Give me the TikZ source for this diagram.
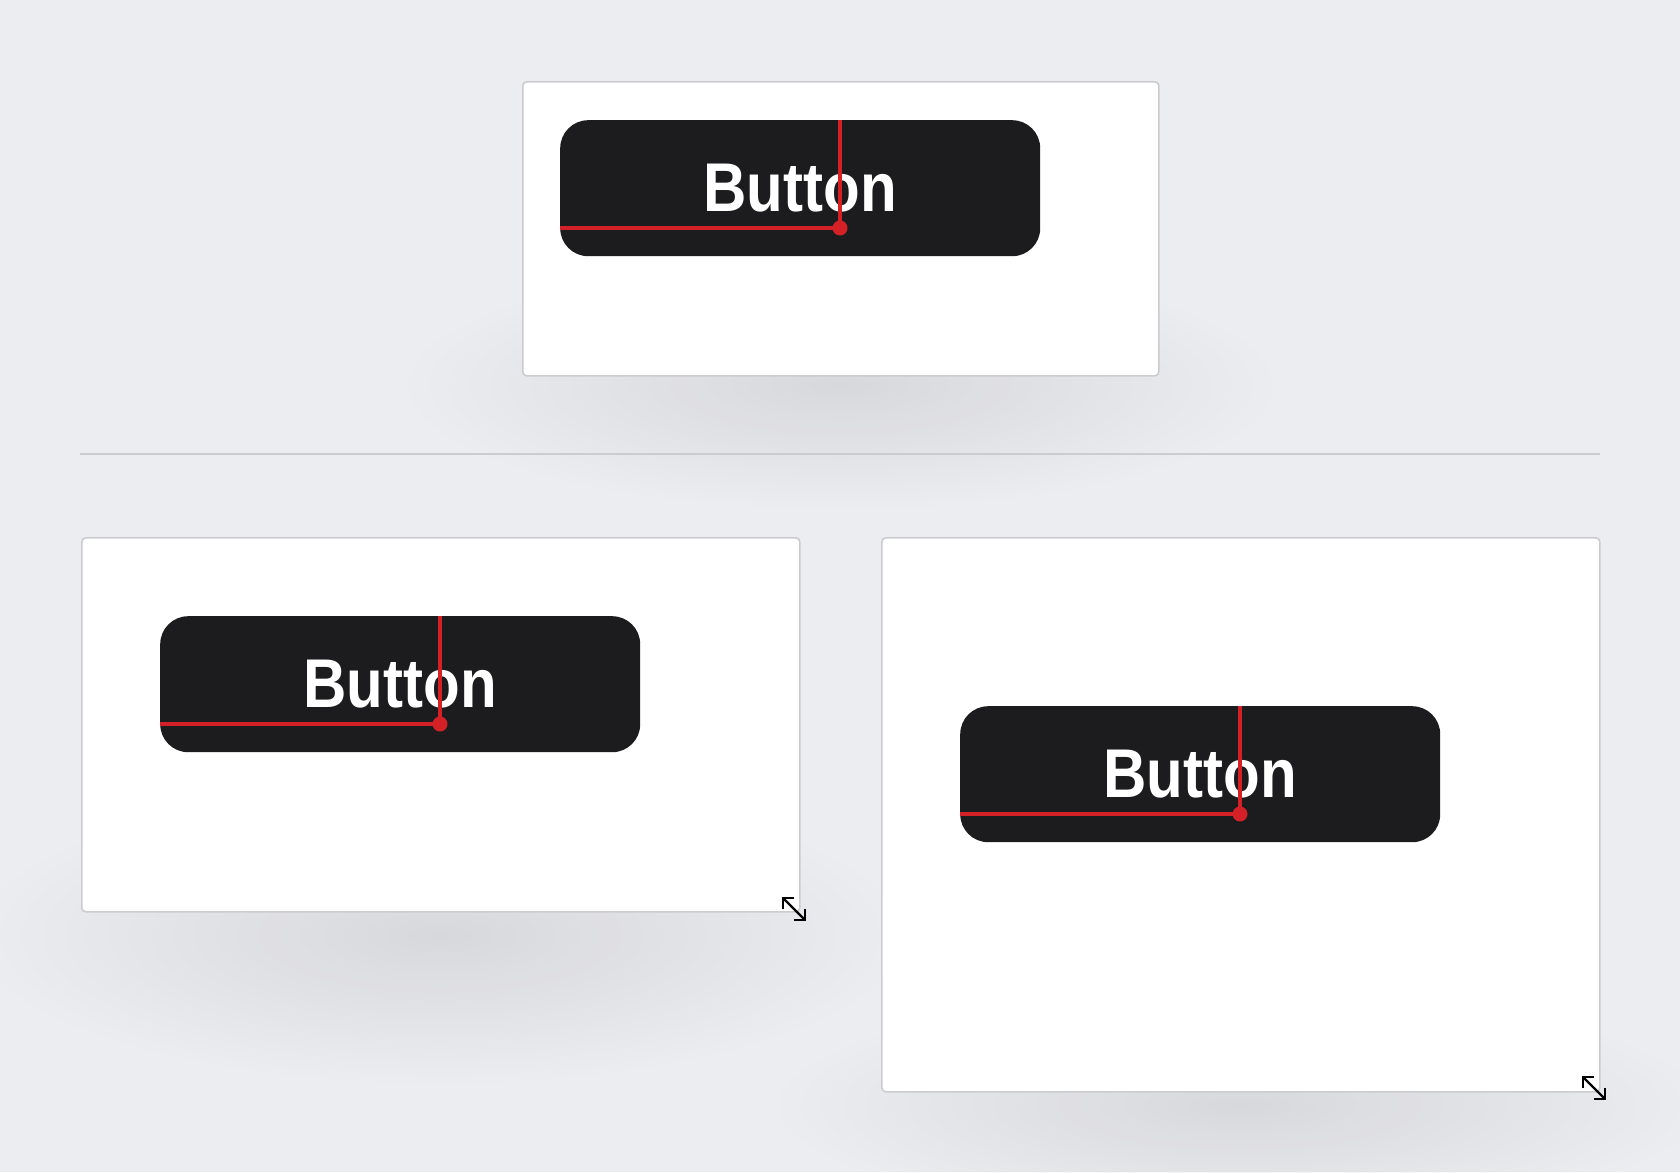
\documentclass[tikz,border=0pt]{standalone}
\usepackage{fontspec}
\setmainfont{Liberation Sans}
\usetikzlibrary{fadings,arrows.meta}
\definecolor{bg}{HTML}{ECEDF1}
\definecolor{frame}{HTML}{CBCCD0}
\definecolor{btn}{HTML}{1C1C1E}
\definecolor{guide}{HTML}{D42027}
\tikzfading[name=softglow, inner color=transparent!0, outer color=transparent!100]
\begin{document}
\begin{tikzpicture}[x=1pt,y=-1pt,
  panel/.style={draw=frame, line width=1.6pt, fill=white, rounded corners=4pt, inner sep=0pt, anchor=north west},
  shadowblob/.style={fill=black, opacity=0.085, path fading=softglow},
  button/.style={fill=btn, rounded corners=28pt, minimum width=480pt, minimum height=136pt, inner sep=0pt,
    anchor=north west},
  label/.style={text=white, inner sep=0pt, xscale=0.87, font=\fontsize{69}{69}\selectfont\bfseries},
  guide/.style={draw=guide, line width=3.5pt},
  dot/.style={circle, fill=guide, inner sep=0pt, minimum size=15pt},
  resize/.style={draw=black, line width=2.2pt, {Straight Barb[length=7.5pt,width=15pt]}-{Straight Barb[length=7.5pt,width=15pt]}},
  divider/.style={draw=frame, line width=2pt}]
\fill[bg] (0,0) rectangle (1680,1172);
\useasboundingbox (0,0) rectangle (1680,1172);

% soft shadows
\fill[shadowblob] (840,385) ellipse (440pt and 125pt);
\fill[shadowblob] (440,935) ellipse (470pt and 150pt);
\fill[shadowblob] (1240,1105) ellipse (470pt and 115pt);

% top panel
\node[panel, minimum width=636pt, minimum height=294pt] (p1) at (522,81) {};
\node[button] (b1) at (560,120) {};
\node[label] (t1) at (b1.center) {Button};
\coordinate (d1) at (840,228);
\draw[guide] (b1.west |- d1) -- (d1) -- (d1 |- b1.north);
\node[dot] (k1) at (d1) {};

% divider
\coordinate (l1) at (80,454);
\coordinate (l2) at (1600,454);
\draw[divider] (l1) -- (l2);

% bottom-left panel
\node[panel, minimum width=718pt, minimum height=374pt] (p2) at (81,537) {};
\node[button] (b2) at (160,616) {};
\node[label] (t2) at (b2.center) {Button};
\coordinate (d2) at (440,724);
\draw[guide] (b2.west |- d2) -- (d2) -- (d2 |- b2.north);
\node[dot] (k2) at (d2) {};
\coordinate (r2a) at (782,897);
\coordinate (r2b) at (806,921);
\draw[resize] (r2a) -- (r2b);

% bottom-right panel
\node[panel, minimum width=718pt, minimum height=554pt] (p3) at (881,537) {};
\node[button] (b3) at (960,706) {};
\node[label] (t3) at (b3.center) {Button};
\coordinate (d3) at (1240,814);
\draw[guide] (b3.west |- d3) -- (d3) -- (d3 |- b3.north);
\node[dot] (k3) at (d3) {};
\coordinate (r3a) at (1582,1076);
\coordinate (r3b) at (1606,1100);
\draw[resize] (r3a) -- (r3b);
\end{tikzpicture}
\end{document}
